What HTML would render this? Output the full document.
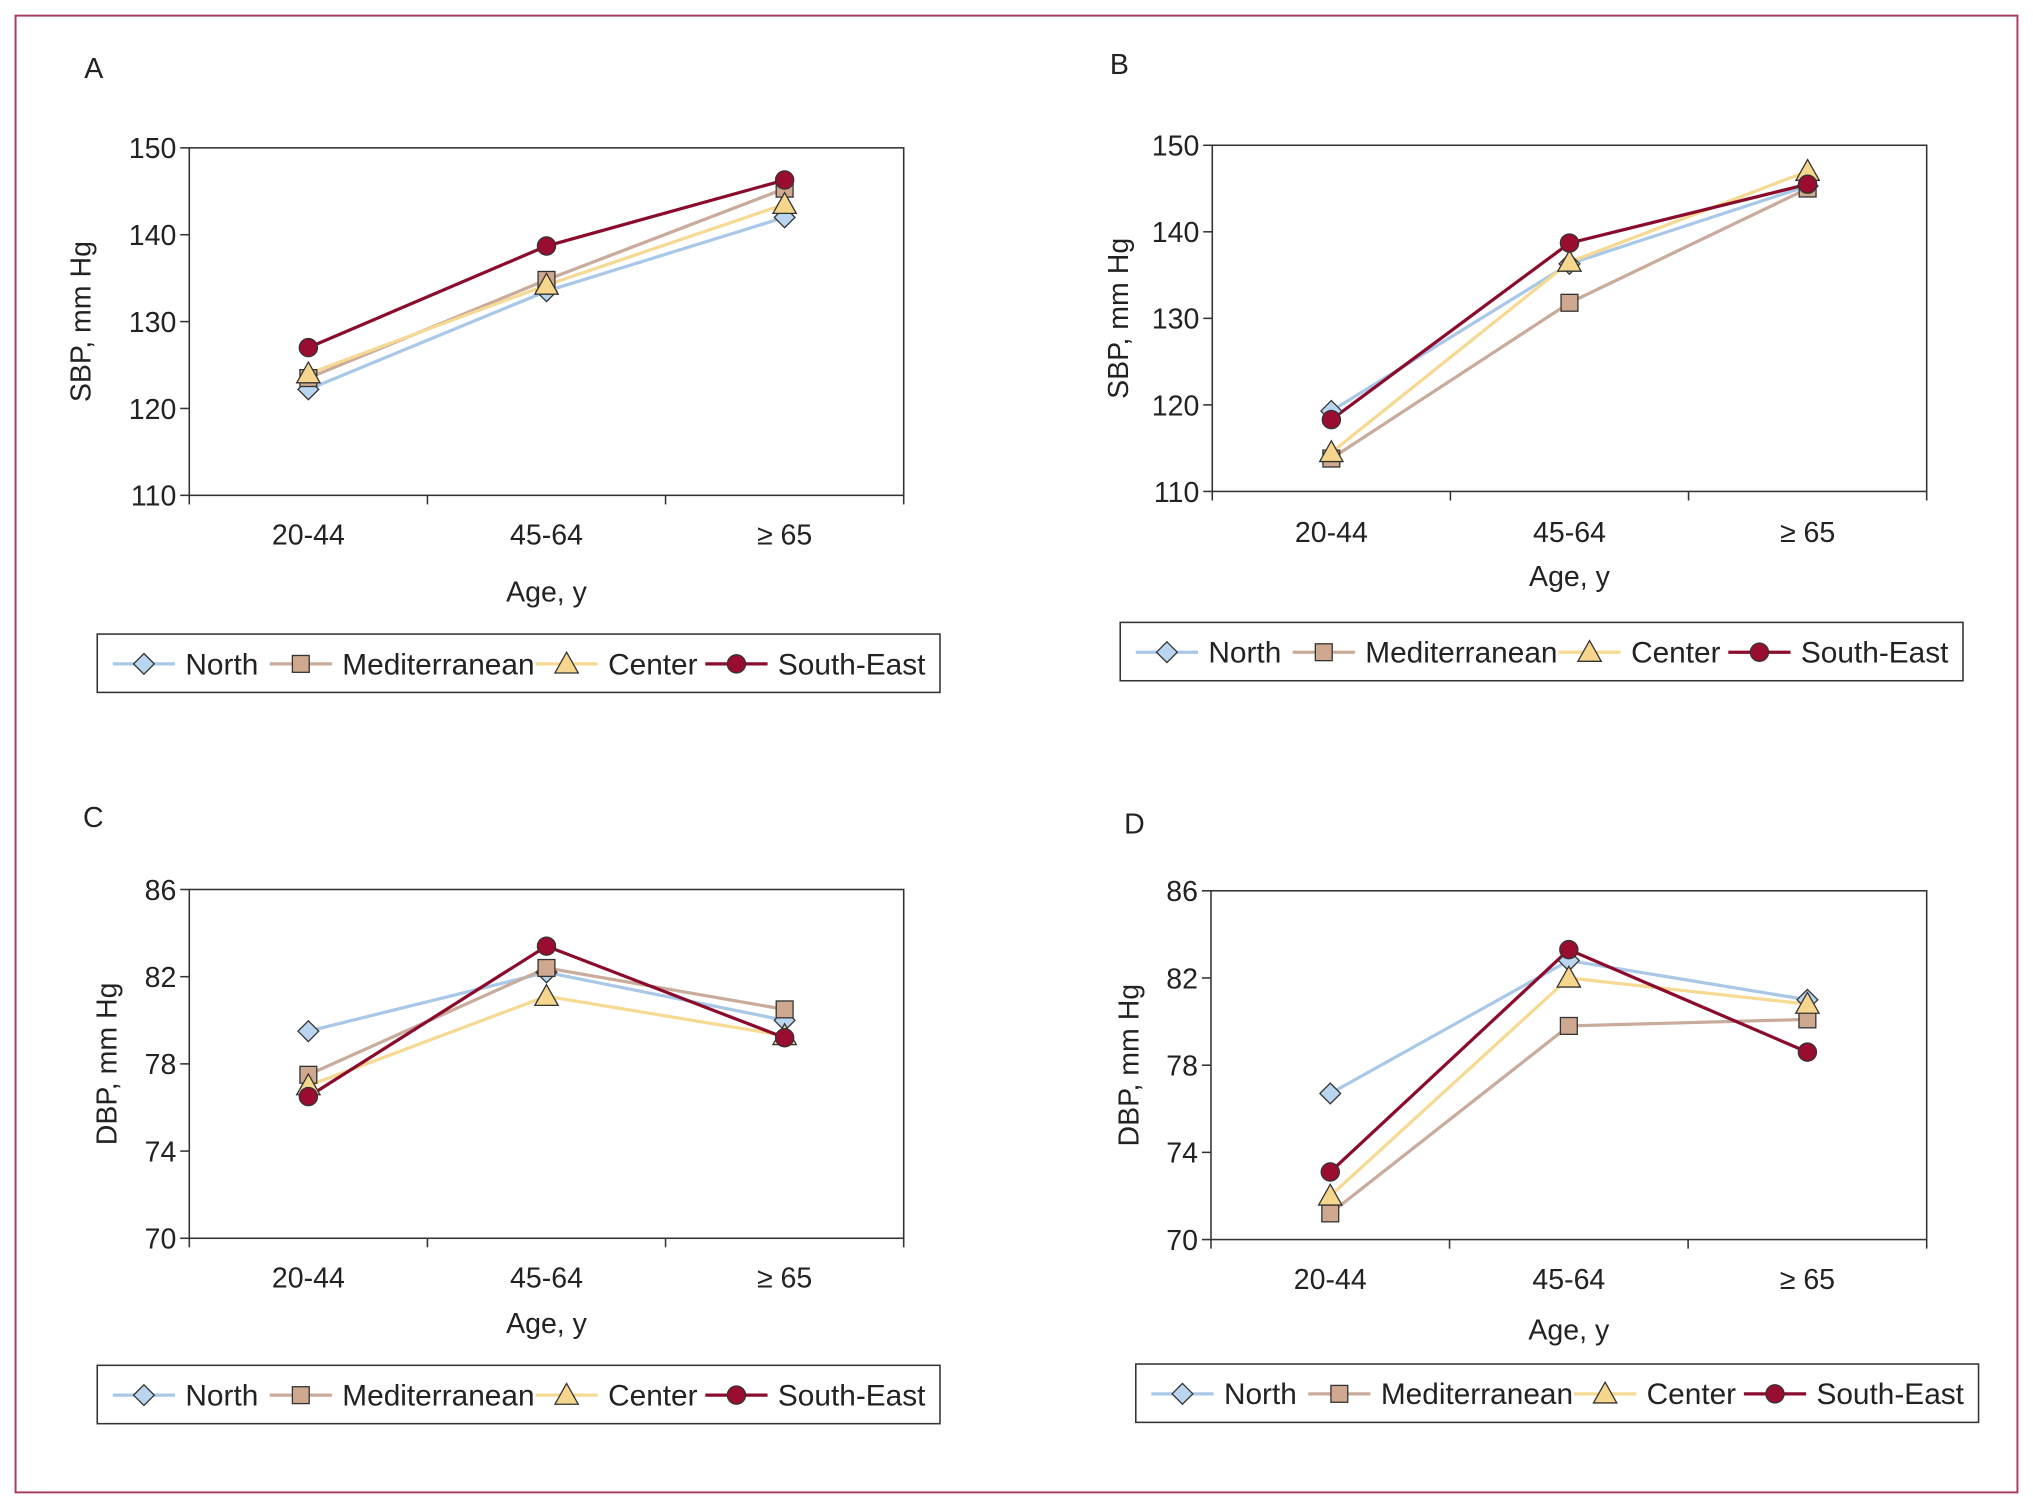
<!DOCTYPE html>
<html><head><meta charset="utf-8"><style>
html,body{margin:0;padding:0;background:#fff}
svg{display:block}
text{font-family:"Liberation Sans Narrow","Liberation Sans",sans-serif;fill:#222}
</style></head><body>
<svg id="fig" width="2033" height="1508" viewBox="0 0 1568 1163" xmlns="http://www.w3.org/2000/svg">
<rect x="12" y="12" width="1544" height="1139" fill="none" stroke="#a83a5e" stroke-width="1.5"/>
</svg>
<script>
const categories = ["20-44", "45-64", "\u2265 65"];
const seriesNames = ["North", "Mediterranean", "Center", "South-East"];
const sbpTicks = [110, 120, 130, 140, 150];
const dbpTicks = [70, 74, 78, 82, 86];
const aNorth = [122.2, 133.5, 142.0];
const aMed = [123.5, 134.8, 145.3];
const aCenter = [124.0, 134.2, 143.5];
const aSE = [127.0, 138.7, 146.3];
const bNorth = [119.3, 136.3, 145.3];
const bMed = [113.8, 131.8, 145.0];
const bCenter = [114.5, 136.5, 147.0];
const bSE = [118.3, 138.7, 145.5];
const cNorth = [79.5, 82.2, 80.0];
const cMed = [77.5, 82.4, 80.5];
const cCenter = [77.0, 81.1, 79.3];
const cSE = [76.5, 83.4, 79.2];
const dNorth = [76.7, 82.8, 81.0];
const dMed = [71.2, 79.8, 80.1];
const dCenter = [72.0, 82.0, 80.8];
const dSE = [73.1, 83.3, 78.6];

const NS = "http://www.w3.org/2000/svg";
const svg = document.getElementById("fig");
const styles = [
  {line:"#a9c8e8", fill:"#b9d5ef", shape:"diamond"},
  {line:"#c9ab9b", fill:"#cfa890", shape:"square"},
  {line:"#f6d992", fill:"#f6d68c", shape:"triangle"},
  {line:"#8b0b2c", fill:"#9b0d30", shape:"circle"}
];
function mk(tag, attrs, parent){
  const e = document.createElementNS(NS, tag);
  for (const k in attrs) e.setAttribute(k, attrs[k]);
  (parent||svg).appendChild(e);
  return e;
}
function marker(g, shape, x, y, st){
  let e;
  if (shape === "diamond") e = mk("polygon", {points:`${x},${y-8} ${x+8},${y} ${x},${y+8} ${x-8},${y}`}, g);
  else if (shape === "square") e = mk("rect", {x:x-6.5, y:y-6.5, width:13, height:13}, g);
  else if (shape === "triangle") e = mk("polygon", {points:`${x},${y-9} ${x+9},${y+7} ${x-9},${y+7}`}, g);
  else e = mk("circle", {cx:x, cy:y, r:7}, g);
  e.setAttribute("fill", st.fill);
  e.setAttribute("stroke", "#333");
  e.setAttribute("stroke-width", "1");
  
  
  return e;
}
const panels = [
  {id:"a", label:"A", lx:65, ly:60, x0:146, x1:697, y0:114, y1:382, ticks:sbpTicks, ytitle:"SBP, mm Hg", ytx:70, tly:420, xty:464, data:[aNorth,aMed,aCenter,aSE], leg:[75,489], legX:[111,232,437,568]},
  {id:"b", label:"B", lx:856, ly:57, x0:935, x1:1486, y0:112, y1:379, ticks:sbpTicks, ytitle:"SBP, mm Hg", ytx:870, tly:418, xty:452, data:[bNorth,bMed,bCenter,bSE], leg:[864,480], legX:[900,1021,1226,1357]},
  {id:"c", label:"C", lx:64, ly:638, x0:146, x1:697, y0:686, y1:955, ticks:dbpTicks, ytitle:"DBP, mm Hg", ytx:90, tly:993, xty:1028, data:[cNorth,cMed,cCenter,cSE], leg:[75,1053], legX:[111,232,437,568]},
  {id:"d", label:"D", lx:867, ly:643, x0:934, x1:1486, y0:687, y1:956, ticks:dbpTicks, ytitle:"DBP, mm Hg", ytx:878, tly:994, xty:1033, data:[dNorth,dMed,dCenter,dSE], leg:[876,1052], legX:[912,1033,1238,1369]}
];
panels.forEach(p => {
  const g = mk("g", {});
  
  
  const lab = mk("text", {x:p.lx, y:p.ly, "font-size":22}, g);
  lab.textContent = p.label;
  
  
  const fr = mk("rect", {x:p.x0, y:p.y0, width:p.x1-p.x0, height:p.y1-p.y0, fill:"none", stroke:"#333", "stroke-width":1.2}, g);
  
  
  const ymin = p.ticks[0], ymax = p.ticks[p.ticks.length-1];
  const ys = v => p.y1 - (v - ymin) / (ymax - ymin) * (p.y1 - p.y0);
  const bw = (p.x1 - p.x0) / categories.length;
  const xs = i => p.x0 + bw * (i + 0.5);
  p.ticks.forEach(t => {
    mk("line", {x1:p.x0-7, x2:p.x0, y1:ys(t), y2:ys(t), stroke:"#333", "stroke-width":1.2}, g);
    const tx = mk("text", {x:p.x0-10, y:ys(t)+8, "font-size":22, "text-anchor":"end"}, g);
    tx.textContent = t;
    
    
  });
  for (let i = 0; i <= categories.length; i++) {
    const x = p.x0 + bw * i;
    mk("line", {x1:x, x2:x, y1:p.y1, y2:p.y1+7, stroke:"#333", "stroke-width":1.2}, g);
  }
  categories.forEach((c, i) => {
    const tx = mk("text", {x:xs(i), y:p.tly, "font-size":22, "text-anchor":"middle"}, g);
    tx.textContent = c;
    
    
  });
  const xt = mk("text", {x:(p.x0+p.x1)/2, y:p.xty, "font-size":22, "text-anchor":"middle"}, g);
  xt.textContent = "Age, y";
  
  
  const yc = (p.y0+p.y1)/2;
  const yt = mk("text", {x:p.ytx, y:yc, "font-size":22, "text-anchor":"middle", transform:`rotate(-90 ${p.ytx} ${yc})`}, g);
  yt.textContent = p.ytitle;
  
  
  p.data.forEach((vals, s) => {
    const st = styles[s];
    const pts = vals.map((v, i) => `${xs(i)},${ys(v)}`).join(" ");
    const pl = mk("polyline", {points:pts, fill:"none", stroke:st.line, "stroke-width":2.5}, g);
    
    
  });
  p.data.forEach((vals, s) => {
    vals.forEach((v, i) => marker(g, styles[s].shape, xs(i), ys(v), styles[s]));
  });
  // legend
  const lg = mk("g", {}, g);
  
  
  mk("rect", {x:p.leg[0], y:p.leg[1], width:650, height:45, fill:"#fff", stroke:"#333", "stroke-width":1.2}, lg);
  const cy = p.leg[1] + 23;
  seriesNames.forEach((n, s) => {
    const mx = p.legX[s];
    const e = mk("g", {}, lg);
    
    
    mk("line", {x1:mx-24, x2:mx+24, y1:cy, y2:cy, stroke:styles[s].line, "stroke-width":2.5}, e);
    marker(e, styles[s].shape, mx, cy, styles[s]);
    const t = mk("text", {x:mx+32, y:cy+8, "font-size":23}, e);
    t.textContent = n;
  });
});
</script>
</body></html>
